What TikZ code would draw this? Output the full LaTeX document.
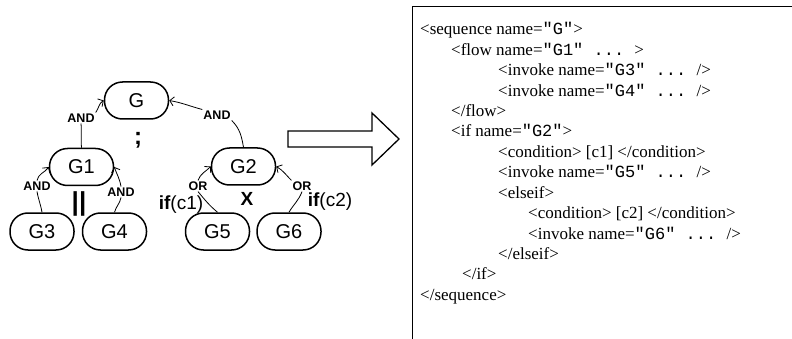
\documentclass[tikz,border=0pt]{standalone}
\usepackage{fontspec}
\setmainfont{Liberation Serif}
\setmonofont{Liberation Mono}
\newfontfamily\arialf{Liberation Sans}
\usetikzlibrary{arrows.meta}
\newcommand\mnq[1]{{\ttfamily #1}}
\begin{document}
\begin{tikzpicture}[x=1pt,y=-1pt,
  goal/.style={draw, line width=1.5pt, rectangle, rounded corners=18pt, minimum width=64pt, minimum height=37pt, inner sep=0pt, font=\arialf\fontsize{20}{20}\selectfont},
  lbl/.style={font=\arialf\bfseries\fontsize{12.5}{12.5}\selectfont, inner sep=1pt},
  edge/.style={line width=0.8pt},
  arr/.style={edge, -{Straight Barb[length=4pt,width=9pt]}},
  sym/.style={inner sep=0pt, font=\arialf\fontsize{19}{19}\selectfont},
  code/.style={anchor=base west, inner sep=0pt, font=\fontsize{17}{17}\selectfont},
]
\useasboundingbox (0,0) rectangle (792,339);

% goal nodes
\node[goal] (G)  at (136.5,100.5) {G};
\node[goal] (G1) at (81.5,167) {G1};
\node[goal] (G2) at (243.5,166.5) {G2};
\node[goal] (G3) at (42,231.5) {G3};
\node[goal] (G4) at (114.5,231.5) {G4};
\node[goal] (G5) at (217.5,231.5) {G5};
\node[goal] (G6) at (289,231.5) {G6};

% edge labels
\node[lbl] (a1) at (81,118) {AND};
\node[lbl] (a2) at (217,115) {AND};
\node[lbl] (a3) at (37,186) {AND};
\node[lbl] (a4) at (121,192) {AND};
\node[lbl] (o5) at (198,186) {OR};
\node[lbl] (o6) at (302,186) {OR};

% edges
\draw[edge] (G1.north) to[out=95,in=-85] (a1.south);
\draw[arr] (a1.north east) to[out=55,in=210] (G.west);
\draw[edge] (G2.north) to[out=100,in=-45] (a2.south east);
\draw[arr] (a2.north west) to[out=165,in=-10] (G.east);
\draw[edge] (G3.north) to[out=100,in=-80] (a3.south);
\draw[arr] (a3.north) to[out=80,in=235] (G1.west);
\draw[edge] (G4.north) to[out=75,in=-100] (a4.south);
\draw[arr] (a4.north) to[out=100,in=-70] (G1.east);
\draw[edge] (G5.north) to[out=140,in=-50] (o5.south);
\draw[arr] (o5.north) to[out=70,in=225] (G2.west);
\draw[edge] (G6.north) to[out=60,in=-110] (o6.south);
\draw[arr] (o6.north west) to[out=135,in=-30] (G2.east);

% operators
\node[sym, font=\arialf\bfseries\fontsize{24}{24}\selectfont] (semi) at (138,140) {;};
\node[sym, font=\arialf\bfseries\fontsize{26}{26}\selectfont] (par) at (79,204) {||};
\node[sym, font=\arialf\bfseries\fontsize{19}{19}\selectfont] (xor) at (247,199) {X};
\node[sym] (if1) at (181,205) {\textbf{if}(c1)};
\node[sym] (if2) at (330,202) {\textbf{if}(c2)};

% big arrow
\draw[line width=1.3pt] (288,131) -- (372,131) -- (372,113) -- (399,139) -- (372,165) -- (372,147) -- (288,147) -- cycle;

% code box
\draw[line width=1.5pt] (412.5,339) -- (412.5,6.5) -- (792,6.5);

\node[code] (l0)  at (420,35.0)  {<sequence name=\mnq{"G"}>};
\node[code] (l1)  at (451,55.4)  {<flow name=\mnq{"G1"\ ...\ }>};
\node[code] (l2)  at (498,75.8)  {<invoke name=\mnq{"G3"\ ...\ }/>};
\node[code] (l3)  at (498,96.2)  {<invoke name=\mnq{"G4"\ ...\ }/>};
\node[code] (l4)  at (451,116.6) {</flow>};
\node[code] (l5)  at (451,137.0) {<if name=\mnq{"G2"}>};
\node[code] (l6)  at (498,157.4) {<condition> [c1] </condition>};
\node[code] (l7)  at (498,177.8) {<invoke name=\mnq{"G5"\ ...\ }/>};
\node[code] (l8)  at (498,198.2) {<elseif>};
\node[code] (l9)  at (528,218.6) {<condition> [c2] </condition>};
\node[code] (l10) at (528,239.0) {<invoke name=\mnq{"G6"\ ...\ }/>};
\node[code] (l11) at (498,259.4) {</elseif>};
\node[code] (l12) at (462,279.8) {</if>};
\node[code] (l13) at (420,300.2) {</sequence>};
\end{tikzpicture}
\end{document}
